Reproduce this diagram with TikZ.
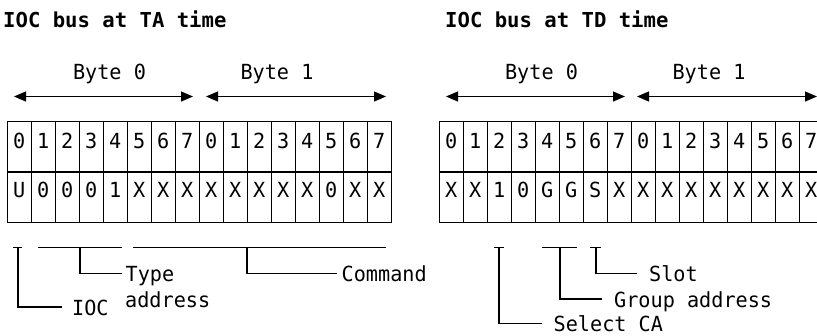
\documentclass[tikz,border=0pt]{standalone}
\usepackage{fontspec}
\setmainfont{DejaVu Sans Mono}[FakeStretch=0.97]
\newfontfamily\ttlfont{DejaVu Sans Mono}
\usetikzlibrary{arrows.meta}
\tikzset{
  txt/.style={inner sep=0pt, font=\fontsize{20.8}{24}\selectfont},
  ttl/.style={inner sep=0pt, font=\ttlfont\fontsize{20.6}{24}\selectfont\bfseries, anchor=base west},
  lbl/.style={txt, anchor=base west},
  celltxt/.style={txt, anchor=base},
  ln/.style={line width=1.2pt},
  span/.style={ln, {Triangle[length=12pt,width=10pt]}-{Triangle[length=12pt,width=10pt]}},
}
\begin{document}
\begin{tikzpicture}[x=1pt,y=-1pt]
\useasboundingbox (0,0) rectangle (817,335);
\begin{scope}
\clip (0,0) rectangle (817,335);
% titles
\node[ttl] (t1) at (3,27.3) {IOC bus at TA time};
\node[ttl] (t2) at (445,27.3) {IOC bus at TD time};
% byte labels
\node[celltxt] (b0l) at (109.5,79.5) {Byte 0};
\node[celltxt] (b1l) at (277,79.5) {Byte 1};
\node[celltxt] (b0r) at (541.5,79.5) {Byte 0};
\node[celltxt] (b1r) at (709,79.5) {Byte 1};
\coordinate (a1) at (14,96.5); \coordinate (a2) at (193,96.5);
\coordinate (a3) at (206,96.5); \coordinate (a4) at (386,96.5);
\coordinate (a5) at (446,96.5); \coordinate (a6) at (625,96.5);
\coordinate (a7) at (637,96.5); \coordinate (a8) at (817,96.5);
\draw[span] (a1) -- (a2);
\draw[span] (a3) -- (a4);
\draw[span] (a5) -- (a6);
\draw[span] (a7) -- (a8);
% tables
\foreach \x/\vals in {7.3/{U,0,0,0,1,X,X,X,X,X,X,X,X,0,X,X}, 439.3/{X,X,1,0,G,G,S,X,X,X,X,X,X,X,X,X}}{
  \draw[ln] (\x,121.7) rectangle (\x+384,222.7);
  \draw[ln] (\x,172) -- (\x+384,172);
  \foreach \i in {1,...,15}{
    \draw[ln] (\x+24*\i,121.7) -- (\x+24*\i,222.7);
  }
  \foreach \i in {0,...,7}{
    \node[celltxt] at (\x+24*\i+12,148) {\i};
    \node[celltxt] at (\x+24*\i+204,148) {\i};
  }
  \foreach \v [count=\k from 0] in \vals{
    \node[celltxt] at (\x+24*\k+12,197) {\v};
  }
}
% left annotations
\node[lbl] (ioc) at (72,315.5) {IOC};
\node[lbl] (type) at (125.5,281) {Type};
\node[lbl] (addr) at (125,307) {address};
\node[lbl] (cmd) at (341.5,281) {Command};
\coordinate (p1) at (13,247.7); \coordinate (p2) at (22,247.7);
\coordinate (p3) at (18,247.7); \coordinate (p4) at (18,307); \coordinate (p5) at (62,307);
\coordinate (q1) at (38,247.7); \coordinate (q2) at (122,247.7);
\coordinate (q3) at (80,247.7); \coordinate (q4) at (80,273.3); \coordinate (q5) at (122,273.3);
\coordinate (r1) at (133,247.7); \coordinate (r2) at (386,247.7);
\coordinate (r3) at (247,247.7); \coordinate (r4) at (247,273.3); \coordinate (r5) at (337,273.3);
\draw[ln] (p1) -- (p2); \draw[ln] (p3) -- (p4) -- (p5);
\draw[ln] (q1) -- (q2); \draw[ln] (q3) -- (q4) -- (q5);
\draw[ln] (r1) -- (r2); \draw[ln] (r3) -- (r4) -- (r5);
% right annotations
\node[lbl] (sel) at (553.5,331.5) {Select CA};
\node[lbl] (grp) at (614,307) {Group address};
\node[lbl] (slot) at (649,281) {Slot};
\coordinate (s1) at (494,247.7); \coordinate (s2) at (504,247.7);
\coordinate (s3) at (499,247.7); \coordinate (s4) at (499,323.3); \coordinate (s5) at (542,323.3);
\coordinate (g1) at (542,247.7); \coordinate (g2) at (577,247.7);
\coordinate (g3) at (560,247.7); \coordinate (g4) at (560,299); \coordinate (g5) at (602,299);
\coordinate (o1) at (590,247.7); \coordinate (o2) at (601,247.7);
\coordinate (o3) at (596,247.7); \coordinate (o4) at (596,273.3); \coordinate (o5) at (637,273.3);
\draw[ln] (s1) -- (s2); \draw[ln] (s3) -- (s4) -- (s5);
\draw[ln] (g1) -- (g2); \draw[ln] (g3) -- (g4) -- (g5);
\draw[ln] (o1) -- (o2); \draw[ln] (o3) -- (o4) -- (o5);
\end{scope}
\end{tikzpicture}
\end{document}
